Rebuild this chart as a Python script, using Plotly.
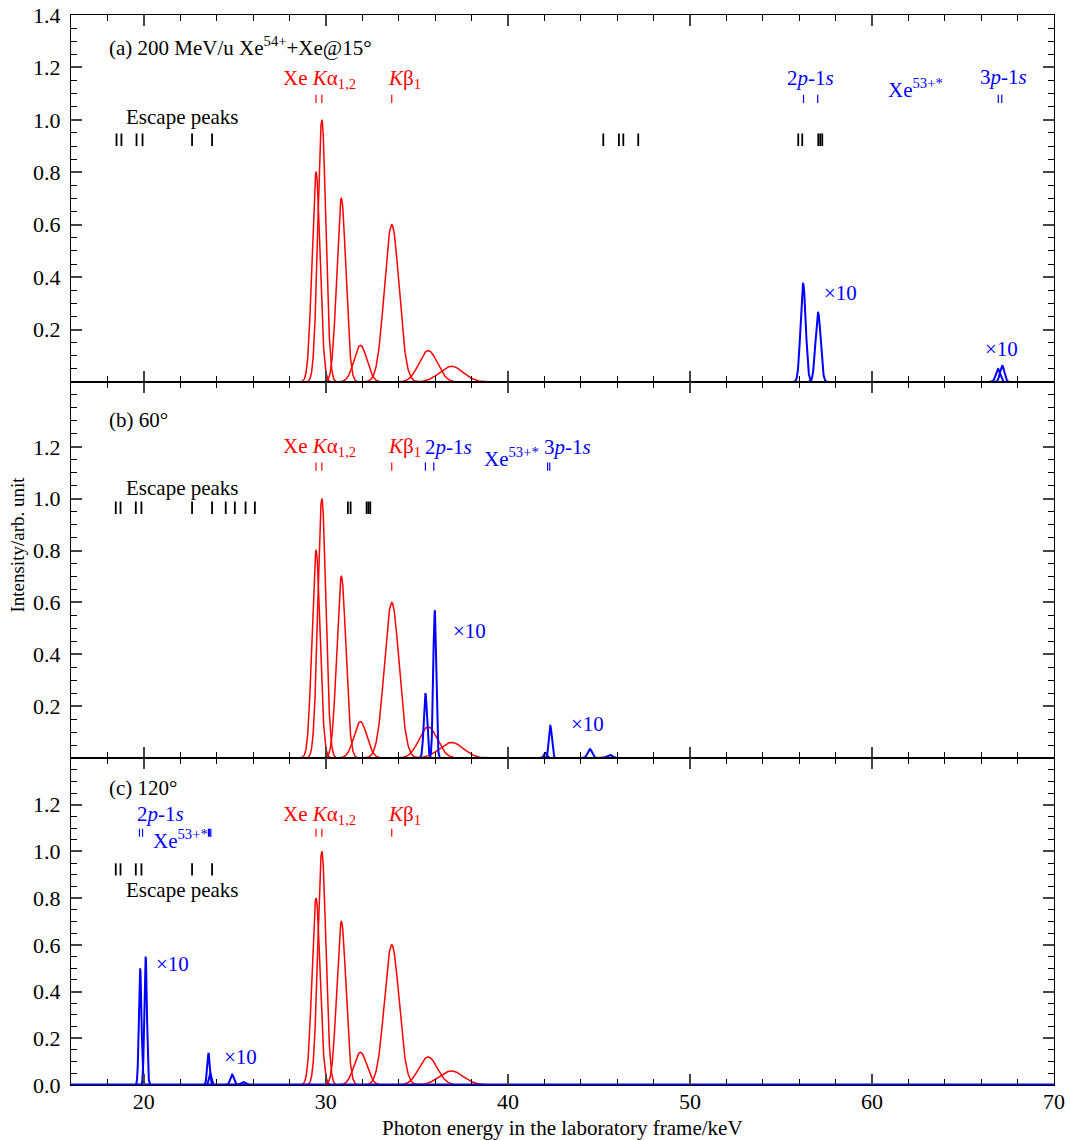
import numpy as np
import plotly.graph_objects as go
from plotly.subplots import make_subplots

FONT = "Liberation Serif"
RED = "#ff0000"
BLUE = "#0000ff"

# ---------------- data ----------------
# target (Xe) K x-ray lines, same in every panel
red_centers = [29.46, 29.78, 30.85, 31.90, 33.62, 35.62, 36.90]
red_heights = [0.80, 1.00, 0.70, 0.14, 0.60, 0.12, 0.06]
red_sigmas = [0.22, 0.22, 0.25, 0.35, 0.40, 0.50, 0.65]

# projectile lines (x10) per panel
blue_a_centers = [56.22, 57.04, 66.92, 67.16]
blue_a_heights = [0.375, 0.265, 0.050, 0.062]
blue_a_sigmas = [0.14, 0.14, 0.12, 0.12]

blue_b_centers = [35.47, 35.98, 42.07, 42.33, 44.50, 45.60]
blue_b_heights = [0.25, 0.57, 0.02, 0.125, 0.035, 0.012]
blue_b_sigmas = [0.09, 0.08, 0.08, 0.08, 0.12, 0.15]

blue_c_centers = [19.80, 20.10, 23.55, 23.65, 24.85, 25.45]
blue_c_heights = [0.50, 0.55, 0.138, 0.05, 0.045, 0.013]
blue_c_sigmas = [0.07, 0.07, 0.07, 0.07, 0.10, 0.12]

# line-position markers
red_marks = [29.46, 29.78, 33.62]
escape_a = [18.50, 18.77, 19.60, 19.93, 22.65, 23.75, 45.24, 46.10, 46.34, 47.16,
            55.95, 56.17, 57.05, 57.16, 57.27]
blue_marks_a = [56.24, 57.02, 66.94, 67.13]
escape_b = [18.46, 18.72, 19.56, 19.87, 22.65, 23.75, 24.50, 25.00, 25.59, 26.10,
            31.21, 31.36, 32.24, 32.34, 32.44]
blue_marks_b = [35.47, 35.93, 42.18, 42.30]
escape_c = [18.46, 18.72, 19.56, 19.87, 22.65, 23.75]
blue_marks_c = [19.76, 19.93, 23.55, 23.62, 23.68]

x_range = [16, 70]
y_ranges = [[0, 1.4], [0, 1.45], [0, 1.4]]
y_tickvals = [[0.2, 0.4, 0.6, 0.8, 1.0, 1.2, 1.4],
              [0.2, 0.4, 0.6, 0.8, 1.0, 1.2],
              [0.0, 0.2, 0.4, 0.6, 0.8, 1.0, 1.2]]

fig = make_subplots(rows=3, cols=1, shared_xaxes=True, vertical_spacing=0,
                    row_heights=[367, 376, 327])


def gauss_traces(centers, heights, sigmas, color, width, row):
    for c, h, s in zip(centers, heights, sigmas):
        xs = np.linspace(c - 4 * s, c + 4 * s, 241)
        ys = h * np.exp(-0.5 * ((xs - c) / s) ** 2)
        fig.add_trace(go.Scatter(x=xs, y=ys, mode="lines",
                                 line=dict(color=color, width=width),
                                 hoverinfo="skip", showlegend=False), row=row, col=1)


def mark_traces(energies, yc, half, color, width, row):
    xs, ys = [], []
    for e in energies:
        xs += [e, e, None]
        ys += [yc - half, yc + half, None]
    fig.add_trace(go.Scatter(x=xs, y=ys, mode="lines",
                             line=dict(color=color, width=width),
                             hoverinfo="skip", showlegend=False), row=row, col=1)


for r in (1, 2, 3):
    gauss_traces(red_centers, red_heights, red_sigmas, RED, 1.5, r)

# baseline of blue spectrum in panel (c)
fig.add_trace(go.Scatter(x=x_range, y=[0, 0], mode="lines", line=dict(color=BLUE, width=3),
                         hoverinfo="skip", showlegend=False), row=3, col=1)

gauss_traces(blue_a_centers, blue_a_heights, blue_a_sigmas, BLUE, 2, 1)
gauss_traces(blue_b_centers, blue_b_heights, blue_b_sigmas, BLUE, 2, 2)
gauss_traces(blue_c_centers, blue_c_heights, blue_c_sigmas, BLUE, 2, 3)

# markers
mark_traces(escape_a, 0.924, 0.024, "black", 1.8, 1)
mark_traces(red_marks, 1.08, 0.016, RED, 1.2, 1)
mark_traces(blue_marks_a, 1.08, 0.016, BLUE, 1.2, 1)

mark_traces(escape_b, 0.965, 0.024, "black", 1.8, 2)
mark_traces(red_marks, 1.124, 0.016, RED, 1.2, 2)
mark_traces(blue_marks_b, 1.124, 0.016, BLUE, 1.2, 2)

mark_traces(escape_c, 0.923, 0.026, "black", 1.8, 3)
mark_traces(red_marks, 1.08, 0.017, RED, 1.2, 3)
mark_traces(blue_marks_c, 1.08, 0.017, BLUE, 1.2, 3)

# ---------------- axes ----------------
for i, r in enumerate((1, 2, 3)):
    fig.update_xaxes(range=x_range, dtick=10, tick0=0, ticks="inside", ticklen=11, tickwidth=1.5,
                     showline=True, linecolor="black", linewidth=1.2, mirror="allticks",
                     showgrid=False, zeroline=False, automargin=False, ticklabelstandoff=-4,
                     minor=dict(ticks="inside", ticklen=6, tickwidth=1.2, dtick=2, tick0=0,
                                tickcolor="black", showgrid=False),
                     tickfont=dict(family=FONT, size=22, color="black"),
                     showticklabels=(r == 3), row=r, col=1)
    fig.update_yaxes(range=y_ranges[i], tickvals=y_tickvals[i],
                     ticktext=["%.1f" % v for v in y_tickvals[i]],
                     ticks="inside", ticklen=11, tickwidth=1.5, ticklabelstandoff=5,
                     showline=True, linecolor="black", linewidth=1.2, mirror="allticks",
                     showgrid=False, zeroline=False, automargin=False,
                     minor=dict(ticks="inside", ticklen=6, tickwidth=1.2, dtick=0.05, tick0=0,
                                tickcolor="black", showgrid=False),
                     tickfont=dict(family=FONT, size=22, color="black"),
                     row=r, col=1)

# ---------------- annotations ----------------
ann = []


def add_text(text, x, y, yref, color="black", size=21, xanchor="center"):
    ann.append(dict(text=text, x=x, y=y, xref="x", yref=yref, showarrow=False,
                    font=dict(family=FONT, size=size, color=color),
                    xanchor=xanchor, yanchor="middle"))


KA = "Xe <i>K</i>α<sub>1,2</sub>"
KB = "<i>K</i>β<sub>1</sub>"
P2 = "2<i>p</i>-1<i>s</i>"
P3 = "3<i>p</i>-1<i>s</i>"
XE53 = "Xe<sup>53+*</sup>"
X10 = "×10"

# panel (a)
add_text("(a) 200 MeV/u Xe<sup>54+</sup>+Xe@15°", 17.95, 1.28, "y", xanchor="left")
add_text(KA, 29.66, 1.155, "y", RED)
add_text(KB, 34.3, 1.155, "y", RED)
add_text("Escape peaks", 22.1, 1.01, "y")
add_text(P2, 56.6, 1.16, "y", BLUE)
add_text(XE53, 62.4, 1.12, "y", BLUE)
add_text(P3, 67.2, 1.165, "y", BLUE)
add_text(X10, 58.25, 0.34, "y", BLUE)
add_text(X10, 67.1, 0.125, "y", BLUE)

# panel (b)
add_text("(b) 60°", 17.95, 1.305, "y2", xanchor="left")
add_text(KA, 29.66, 1.2, "y2", RED)
add_text(KB, 34.3, 1.2, "y2", RED)
add_text(P2, 36.75, 1.2, "y2", BLUE)
add_text(XE53, 40.2, 1.158, "y2", BLUE)
add_text(P3, 43.3, 1.2, "y2", BLUE)
add_text("Escape peaks", 22.1, 1.042, "y2")
add_text(X10, 37.87, 0.49, "y2", BLUE)
add_text(X10, 44.35, 0.13, "y2", BLUE)

# panel (c)
add_text("(c) 120°", 17.95, 1.27, "y3", xanchor="left")
add_text(P2, 20.9, 1.16, "y3", BLUE)
add_text(XE53, 22.03, 1.05, "y3", BLUE)
add_text(KA, 29.66, 1.155, "y3", RED)
add_text(KB, 34.3, 1.155, "y3", RED)
add_text("Escape peaks", 22.1, 0.833, "y3")
add_text(X10, 21.6, 0.517, "y3", BLUE)
add_text(X10, 25.33, 0.12, "y3", BLUE)

# axis titles
ann.append(dict(text="Intensity/arb. unit", x=-0.054, y=0.505, xref="paper", yref="paper",
                showarrow=False, textangle=-90, xanchor="center", yanchor="middle",
                font=dict(family=FONT, size=19, color="black")))
ann.append(dict(text="Photon energy in the laboratory frame/keV", x=0.5, y=-0.0405,
                xref="paper", yref="paper", showarrow=False, xanchor="center", yanchor="middle",
                font=dict(family=FONT, size=21, color="black")))

fig.update_layout(width=1070, height=1140, margin=dict(l=71, r=16, t=15, b=55, autoexpand=False),
                  paper_bgcolor="white", plot_bgcolor="white", showlegend=False,
                  annotations=ann, font=dict(family=FONT, size=21, color="black"))

fig.write_html("out.html")
